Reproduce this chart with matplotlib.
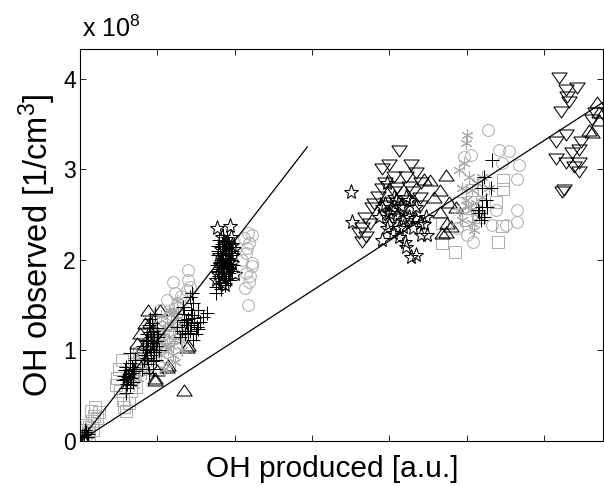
import matplotlib
matplotlib.use("Agg")
import matplotlib.pyplot as plt
import numpy as np

plt.rcParams['font.family'] = ['Liberation Sans', 'DejaVu Sans']
plt.rcParams['mathtext.fontset'] = 'custom'
plt.rcParams['mathtext.rm'] = 'Liberation Sans'
plt.rcParams['mathtext.it'] = 'Liberation Sans'

# ---------------- data (y in units of 1e8 cm^-3) ----------------
sq_x = [0.04, 0.07, 0.10, 0.12, 0.15, 0.18, 0.14, 0.20, 0.08, 0.22, 0.05, 0.17, 0.25, 0.12,
        0.46, 0.48, 0.50, 0.52, 0.55, 0.57, 0.60, 0.63, 0.66, 0.70, 0.73, 0.76, 0.78, 0.62, 0.68, 0.54, 0.80, 0.72,
        1.05, 1.15, 0.95,
        4.68, 4.85, 5.40, 5.46, 5.38, 5.47, 5.47, 5.16, 4.99, 4.68, 4.90, 5.07]
sq_y = [0.02, 0.06, 0.10, 0.16, 0.22, 0.28, 0.33, 0.38, 0.18, 0.25, 0.12, 0.12, 0.32, 0.05,
        0.62, 0.70, 0.80, 0.55, 0.45, 0.38, 0.33, 0.42, 0.55, 0.85, 0.92, 0.97, 0.80, 0.65, 0.72, 0.90, 0.88, 0.60,
        1.05, 1.15, 0.95,
        2.19, 2.09, 2.20, 2.37, 2.64, 2.78, 2.88, 2.48, 2.44, 2.41, 2.63, 2.77]

tri_up_x = [0.88, 0.84, 0.77, 0.81, 0.74, 0.97, 1.12, 1.38, 1.35, 0.99, 0.94, 1.03, 0.90, 1.39, 1.14, 0.97,
            4.52, 4.73, 4.65, 4.77, 4.65, 4.75, 4.73, 4.86, 4.68, 4.80, 4.45, 4.58,
            6.62, 6.69, 6.58, 6.71, 6.71]
tri_up_y = [1.45, 1.30, 1.19, 1.04, 1.08, 0.67, 0.82, 1.04, 0.56, 0.78, 1.23, 1.45, 1.32, 1.06, 0.84, 0.70,
            2.88, 2.94, 2.77, 2.64, 2.53, 2.41, 2.31, 2.59, 2.30, 2.37, 2.90, 2.70,
            3.41, 3.74, 3.44, 3.63, 3.55]

tri_dn_x = [4.13, 4.00, 3.91, 4.28, 4.35, 4.06, 4.22, 3.94, 4.26, 3.77, 3.68, 3.64, 3.65, 3.61, 3.97, 4.39,
            4.06, 4.41, 3.85, 3.90, 4.00, 4.10, 4.15, 4.20, 4.30, 4.05, 3.95, 4.25, 4.40, 3.80, 3.75, 3.70,
            6.19, 6.28, 6.43, 6.30, 6.32, 6.22, 6.28, 6.15, 6.48, 6.15, 6.28, 6.36, 6.45, 6.45, 6.45, 6.39,
            6.23, 6.26, 6.62, 6.66]
tri_dn_y = [3.20, 3.05, 3.00, 3.05, 2.96, 2.92, 2.92, 2.85, 2.81, 2.57, 2.46, 2.35, 2.20, 2.30, 2.63, 2.69,
            2.75, 2.85, 2.70, 2.78, 2.60, 2.80, 2.55, 2.65, 2.75, 2.45, 2.50, 2.45, 2.60, 2.62, 2.40, 2.25,
            4.01, 3.88, 3.90, 3.80, 3.75, 3.63, 3.38, 3.30, 3.30, 3.12, 3.07, 3.18, 3.22, 3.07, 2.97, 3.03,
            2.75, 2.77, 3.55, 3.62]

star_x = [1.77, 1.94, 1.90, 1.96, 1.97, 1.83, 1.90, 1.80, 1.95, 1.85, 1.98, 1.88, 2.00,
          1.78, 1.82, 1.86, 1.92, 1.99, 1.84, 1.76, 1.93, 1.87, 1.81,
          3.51, 3.52, 3.91, 3.97, 4.13, 4.22, 4.35, 4.28, 4.41, 4.49, 4.10, 4.26, 4.03, 4.17, 4.35, 4.22,
          4.06, 4.39, 4.17, 3.97, 3.87, 4.48, 4.00, 4.12, 4.30, 4.20, 4.05, 4.45, 4.15, 3.95,
          3.90, 4.08, 4.25, 4.33, 3.99, 4.18]
star_y = [2.35, 2.37, 2.19, 1.97, 2.17, 1.75, 1.89, 2.05, 2.25, 1.80, 2.05, 1.95, 1.85,
          1.85, 2.12, 2.02, 1.98, 2.12, 2.25, 1.78, 2.08, 1.72, 1.95,
          2.75, 2.42, 2.22, 2.35, 2.25, 2.14, 2.05, 2.03, 2.28, 2.28, 2.50, 2.48, 2.55, 2.59, 2.59, 2.70,
          2.70, 2.41, 2.36, 2.85, 2.48, 2.48, 2.40, 2.35, 2.35, 2.20, 2.30, 2.40, 2.60, 2.62,
          2.58, 2.66, 2.66, 2.46, 2.52, 2.44]

circ_x = [1.20, 1.39, 1.39, 1.23, 1.12, 1.38, 1.03, 1.25, 1.42, 1.30, 1.17,
          2.17, 2.19, 2.15, 2.22, 2.15, 2.19, 2.13, 2.17, 2.23, 2.10, 2.22, 2.16, 2.20, 2.12,
          5.27, 5.42, 5.55, 5.68, 5.65, 5.46, 4.97, 5.06, 5.65, 5.65, 5.51, 5.33, 5.00, 5.08, 4.88, 5.38]
circ_y = [1.76, 1.89, 1.78, 1.63, 1.56, 1.67, 1.45, 1.52, 1.70, 1.60, 1.40,
          2.30, 2.19, 2.08, 1.97, 1.86, 1.76, 1.69, 1.50, 1.93, 2.00, 2.28, 2.13, 1.82, 2.24,
          3.44, 3.22, 3.20, 3.05, 2.90, 3.07, 3.14, 3.16, 2.55, 2.42, 2.39, 2.39, 2.28, 2.20, 2.35, 2.55]

ast_x = [0.70, 0.75, 0.78, 0.82, 0.72, 0.85, 0.92, 0.98, 1.02, 1.05, 1.08, 1.10, 1.12, 1.15, 1.18, 1.20,
         1.22, 1.25, 1.28, 1.30, 1.32, 1.12, 1.20, 1.23, 1.00, 1.05, 1.15, 0.95, 1.30, 1.18, 1.08, 0.88,
         1.10, 1.14, 1.26, 1.04, 1.17, 1.22, 0.98, 1.27,
         5.00, 4.99, 4.97, 5.03, 4.94, 5.07, 4.99, 5.12, 5.06, 4.90, 5.16, 5.07, 5.20, 5.10, 4.94, 5.29,
         5.20, 4.90, 5.02, 5.13]
ast_y = [0.62, 0.70, 0.80, 0.88, 0.95, 0.75, 0.90, 1.00, 1.10, 0.95, 1.20, 1.05, 1.30, 1.15, 1.40, 1.25,
         1.45, 1.35, 1.20, 1.10, 1.00, 0.85, 0.95, 0.87, 1.30, 1.38, 1.45, 1.15, 1.30, 1.05, 0.80, 1.05,
         1.25, 1.02, 1.55, 1.18, 1.28, 1.12, 1.22, 1.42,
         3.38, 3.29, 3.07, 2.92, 2.80, 2.77, 2.66, 2.63, 2.55, 2.55, 2.48, 2.41, 2.92, 2.33, 2.44, 2.80,
         2.70, 2.99, 2.60, 2.85]

plus_x = [0.05, 0.08, 0.03, 0.10, 0.06, 0.09,
          0.60, 0.65, 0.60, 0.67, 0.56, 0.71, 0.62, 0.68, 0.58, 0.65, 0.60, 0.67,
          0.63, 0.66, 0.59, 0.70, 0.64, 0.61, 0.69, 0.57,
          0.80, 0.83, 0.85, 0.87, 0.88, 0.90, 0.92, 0.93, 0.95, 0.96, 0.98, 1.00, 0.86, 0.90, 0.94, 1.02,
          0.82, 0.97, 0.89, 1.00,
          0.84, 0.86, 0.88, 0.91, 0.93, 0.95, 0.99, 0.87, 0.92, 0.96, 0.85, 0.89, 0.94, 0.98, 1.01, 0.91,
          1.45, 1.33, 1.46, 1.59, 1.45, 1.35, 1.51, 1.40, 1.55, 1.29, 1.46, 1.64, 1.25, 1.42, 1.52, 1.38,
          1.42, 1.48, 1.35, 1.50, 1.32, 1.44, 1.37, 1.47, 1.40, 1.53, 1.43, 1.36,
          1.76, 1.78, 1.80, 1.82, 1.84, 1.86, 1.79, 1.81, 1.83, 1.85, 1.87, 1.89, 1.91, 1.93, 1.95, 1.97,
          1.88, 1.90, 1.77, 1.78, 1.92, 1.94, 1.96, 1.86, 1.84, 1.80, 1.98, 1.88, 1.82, 1.76, 1.85, 1.93,
          1.79, 1.81, 1.83, 1.85, 1.87, 1.89, 1.91, 1.93, 1.80, 1.84, 1.88, 1.92, 1.86, 1.90, 1.82, 1.94,
          1.78, 1.83, 1.87, 1.91, 1.95, 1.85, 1.89, 1.81,
          5.33, 5.23, 5.25, 5.20, 5.26, 5.16, 5.23, 5.14, 5.32, 5.20, 5.19]
plus_y = [0.07, 0.10, 0.05, 0.08, 0.12, 0.04,
          0.53, 0.97, 0.82, 0.75, 0.67, 0.90, 0.71, 0.65, 0.78, 0.62, 0.59, 0.82,
          0.74, 0.70, 0.68, 0.77, 0.86, 0.63, 0.80, 0.72,
          0.80, 0.90, 1.00, 1.10, 0.85, 1.20, 0.95, 1.30, 1.05, 1.15, 0.90, 1.25, 1.18, 1.35, 0.80, 1.00,
          1.05, 1.40, 0.75, 1.10,
          0.95, 1.05, 1.12, 1.02, 1.08, 1.22, 1.18, 0.92, 1.15, 0.98, 1.12, 1.28, 0.88, 1.05, 1.15, 1.25,
          1.63, 1.48, 1.52, 1.37, 1.39, 1.34, 1.26, 1.19, 1.32, 1.15, 1.12, 1.41, 1.26, 1.59, 1.45, 1.28,
          1.22, 1.30, 1.40, 1.18, 1.22, 1.45, 1.32, 1.36, 1.35, 1.24, 1.28, 1.18,
          1.70, 1.80, 1.90, 2.00, 2.10, 2.20, 2.15, 1.75, 1.85, 1.95, 2.05, 2.15, 1.80, 1.90, 2.00, 2.10,
          1.72, 2.25, 1.95, 2.05, 2.05, 1.78, 1.88, 1.82, 1.92, 2.22, 1.95, 2.00, 1.68, 1.63, 2.28, 2.18,
          1.88, 1.98, 2.08, 2.12, 1.98, 1.86, 1.96, 2.02, 1.82, 2.02, 2.10, 1.86, 1.90, 1.92, 1.92, 1.96,
          2.10, 2.18, 1.78, 2.14, 2.06, 2.06, 1.80, 2.08,
          3.10, 2.92, 2.66, 2.59, 2.59, 2.52, 2.48, 2.55, 2.80, 2.80, 2.44]

fit_steep_x = [0.0, 2.94]
fit_steep_y = [0.0, 3.25]
fit_shallow_x = [0.0, 6.76]
fit_shallow_y = [0.0, 3.74]

x_ticks = [0, 1, 2, 3, 4, 5, 6]
y_ticks = [0, 1, 2, 3, 4]
y_ticklabels = ['0', '1', '2', '3', '4']

# ---------------- plot ----------------
fig = plt.figure(figsize=(6.04, 4.86), dpi=100)
ax = fig.add_axes([0.1325, 0.0926, 0.8655, 0.8064])

gray = '#b0b0b0'
mew = 0.75
tri_dn_marker = [(-1, 0.72), (1, 0.72), (0, -0.72), (-1, 0.72)]
tri_up_marker = [(-1, -0.72), (1, -0.72), (0, 0.72), (-1, -0.72)]

ax.plot(sq_x, sq_y, linestyle='none', marker='s', ms=8.5, mfc='none', mec=gray, mew=mew)
ax.plot(tri_up_x, tri_up_y, linestyle='none', marker=tri_up_marker, ms=11, mfc='none', mec='k', mew=mew)
ax.plot(tri_dn_x, tri_dn_y, linestyle='none', marker=tri_dn_marker, ms=11, mfc='none', mec='k', mew=mew)
ax.plot(star_x, star_y, linestyle='none', marker='*', ms=11, mfc='none', mec='k', mew=mew)
ax.plot(circ_x, circ_y, linestyle='none', marker='o', ms=8.5, mfc='none', mec=gray, mew=mew)
ax.plot(ast_x, ast_y, linestyle='none', marker=(6, 2, 0), ms=9, mfc='none', mec='#a8a8a8', mew=mew)
ax.plot(plus_x, plus_y, linestyle='none', marker='+', ms=10, mec='k', mew=mew)

ax.plot(fit_steep_x, fit_steep_y, color='k', lw=0.9)
ax.plot(fit_shallow_x, fit_shallow_y, color='k', lw=0.9)

ax.set_xlim(0, 6.76)
ax.set_ylim(0, 4.33)
ax.set_xticks(x_ticks)
ax.set_xticklabels([])
ax.set_yticks(y_ticks)
ax.set_yticklabels(y_ticklabels)
ax.tick_params(direction='in', length=4, width=0.6, top=True, right=True, labelsize=16.5, pad=3)
for s in ax.spines.values():
    s.set_linewidth(0.8)

ax.set_xlabel('OH produced [a.u.]', fontsize=21.5)
ax.xaxis.set_label_coords(0.482, -0.035, transform=ax.transAxes)
ax.xaxis.label.set_va('top')
ax.set_ylabel('OH observed [1/cm$^3$]', fontsize=23.5, labelpad=4)
ax.text(0.003, 1.018, 'x 10$^8$', transform=ax.transAxes, fontsize=18, ha='left', va='bottom')

fig.savefig('out.png', dpi=100)
